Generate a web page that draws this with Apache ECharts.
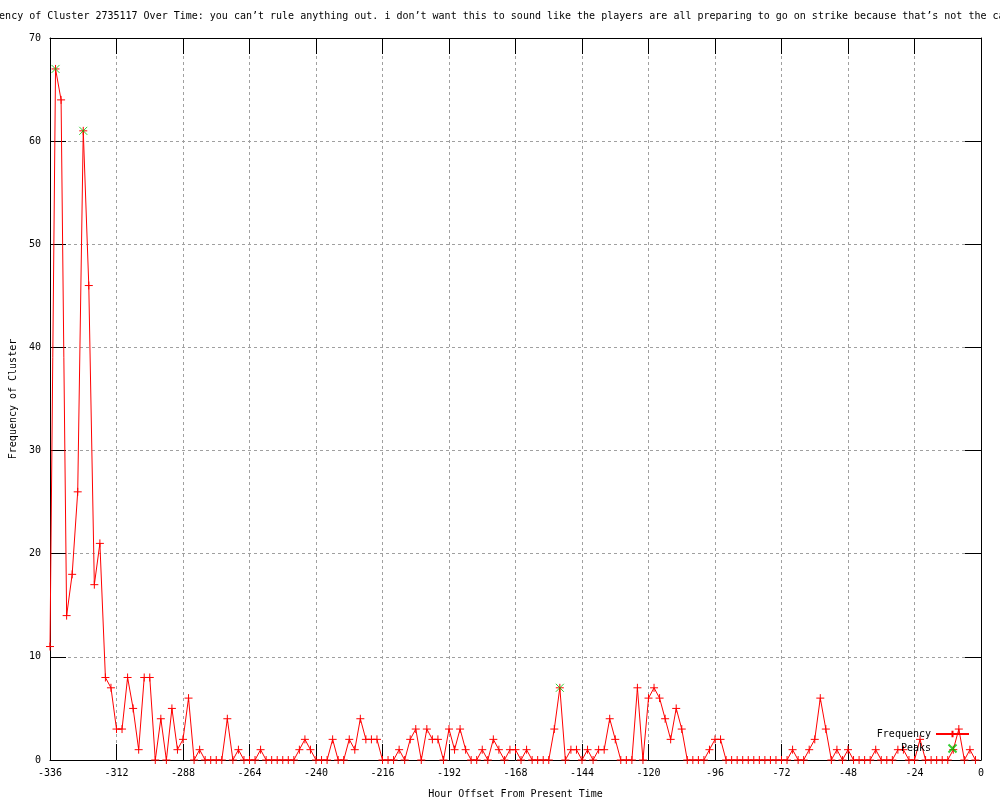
<!DOCTYPE html>
<html><head><meta charset="utf-8">
<script src="https://cdn.jsdelivr.net/npm/echarts@6/dist/echarts.min.js"></script>
<style>html,body{margin:0;padding:0;background:#fff}#c{width:1000px;height:800px}</style>
</head><body><div id="c"></div>
<script>
// Hour offsets (x) and frequency values (y)
const hours = [
  -336,-334,-332,-330,-328,-326,-324,-322,-320,-318,-316,-314,
  -312,-310,-308,-306,-304,-302,-300,-298,-296,-294,-292,-290,
  -288,-286,-284,-282,-280,-278,-276,-274,-272,-270,-268,-266,
  -264,-262,-260,-258,-256,-254,-252,-250,-248,-246,-244,-242,
  -240,-238,-236,-234,-232,-230,-228,-226,-224,-222,-220,-218,
  -216,-214,-212,-210,-208,-206,-204,-202,-200,-198,-196,-194,
  -192,-190,-188,-186,-184,-182,-180,-178,-176,-174,-172,-170,
  -168,-166,-164,-162,-160,-158,-156,-154,-152,-150,-148,-146,
  -144,-142,-140,-138,-136,-134,-132,-130,-128,-126,-124,-122,
  -120,-118,-116,-114,-112,-110,-108,-106,-104,-102,-100,-98,
  -96,-94,-92,-90,-88,-86,-84,-82,-80,-78,-76,-74,
  -72,-70,-68,-66,-64,-62,-60,-58,-56,-54,-52,-50,
  -48,-46,-44,-42,-40,-38,-36,-34,-32,-30,-28,-26,
  -24,-22,-20,-18,-16,-14,-12,-10,-8,-6,-4,-2
];
const frequency = [
  11,67,64,14,18,26,61,46,17,21,8,7,
  3,3,8,5,1,8,8,0,4,0,5,1,
  2,6,0,1,0,0,0,0,4,0,1,0,
  0,0,1,0,0,0,0,0,0,1,2,1,
  0,0,0,2,0,0,2,1,4,2,2,2,
  0,0,0,1,0,2,3,0,3,2,2,0,
  3,1,3,1,0,0,1,0,2,1,0,1,
  1,0,1,0,0,0,0,3,7,0,1,1,
  0,1,0,1,1,4,2,0,0,0,7,0,
  6,7,6,4,2,5,3,0,0,0,0,1,
  2,2,0,0,0,0,0,0,0,0,0,0,
  0,0,1,0,0,1,2,6,3,0,1,0,
  1,0,0,0,0,1,0,0,0,1,1,0,
  0,2,0,0,0,0,0,1,3,0,1,0
];
const peakHours = [-334, -324, -152];
const peakValues = [67, 61, 7];

const titleText = "Frequency of Cluster 2735117 Over Time: you can\u2019t rule anything out. i don\u2019t want this to sound like the players are all preparing to go on strike because that\u2019s not the case";
const xName = "Hour Offset From Present Time";
const yName = "Frequency of Cluster";

const FONT = '"DejaVu Sans Mono", "Liberation Mono", monospace';
const PLUS = 'path://M0,4L8,4M4,0L4,8';
const CROSS = 'path://M0,0L8,8M8,0L0,8';

const freqData = hours.map((h, i) => [h, frequency[i]]);
const peakData = peakHours.map((h, i) => [h, peakValues[i]]);

const chart = echarts.init(document.getElementById('c'), null, {renderer: 'canvas'});
const tickStyle = {show: true, inside: true, length: 16, lineStyle: {color: '#000', width: 1}};
const axisLine = {show: true, onZero: false, lineStyle: {color: '#000', width: 1}};
const grid = {show: true, lineStyle: {color: '#a0a0a0', width: 1, type: [3, 3]}};

chart.setOption({
  animation: false,
  backgroundColor: '#fff',
  title: {
    text: titleText, left: -36, top: 6,
    textStyle: {fontFamily: FONT, fontSize: 10, fontWeight: 'normal', color: '#000'}
  },
  grid: {left: 50, right: 19, top: 38, bottom: 40, containLabel: false, outerBoundsMode: 'none'},
  legend: {
    orient: 'vertical', right: 30, top: 729, align: 'right', padding: 0,
    itemWidth: 33, itemHeight: 8, itemGap: 4.5,
    textStyle: {fontFamily: FONT, fontSize: 10, color: '#000'},
    data: ['Frequency', 'Peaks']
  },
  xAxis: [{
    type: 'value', min: -336, max: 0, interval: 24, position: 'bottom',
    name: xName, nameLocation: 'middle', nameGap: 29,
    nameTextStyle: {fontFamily: FONT, fontSize: 10, color: '#000'},
    axisLine: axisLine, axisTick: tickStyle, splitLine: grid,
    axisLabel: {fontFamily: FONT, fontSize: 10, color: '#000', margin: 8}
  }, {
    type: 'value', min: -336, max: 0, interval: 24, position: 'top',
    axisLine: axisLine, axisTick: tickStyle, splitLine: {show: false},
    axisLabel: {show: false}
  }],
  yAxis: [{
    type: 'value', min: 0, max: 70, interval: 10, position: 'left',
    name: yName, nameLocation: 'middle', nameGap: 31, nameRotate: 90,
    nameTextStyle: {fontFamily: FONT, fontSize: 10, color: '#000'},
    axisLine: axisLine, axisTick: tickStyle, splitLine: grid,
    axisLabel: {fontFamily: FONT, fontSize: 10, color: '#000', margin: 9}
  }, {
    type: 'value', min: 0, max: 70, interval: 10, position: 'right',
    axisLine: axisLine, axisTick: tickStyle, splitLine: {show: false},
    axisLabel: {show: false}
  }],
  series: [{
    name: 'Frequency', type: 'line', data: freqData,
    xAxisIndex: 0, yAxisIndex: 0,
    showAllSymbol: true, symbol: PLUS, symbolSize: 8,
    lineStyle: {color: '#ff0000', width: 1},
    itemStyle: {color: '#ff0000', borderColor: '#ff0000', borderWidth: 1},
    emphasis: {disabled: true}
  }, {
    name: 'Peaks', type: 'scatter', data: peakData, z: 5,
    xAxisIndex: 0, yAxisIndex: 0,
    symbol: CROSS, symbolSize: 8,
    itemStyle: {color: '#00c000', borderColor: '#00c000', borderWidth: 1},
    emphasis: {disabled: true}
  }]
});
</script>
</body></html>
